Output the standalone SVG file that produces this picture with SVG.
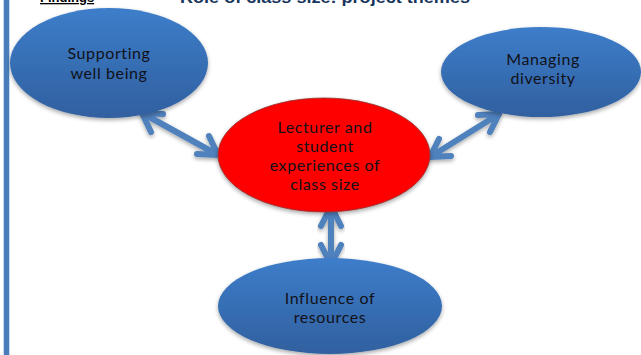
<svg xmlns="http://www.w3.org/2000/svg" width="641" height="355" viewBox="0 0 641 355">
  <defs>
    <linearGradient id="blueGrad" x1="0" y1="0" x2="0" y2="1">
      <stop offset="0" stop-color="#3d7dca"/>
      <stop offset="1" stop-color="#30609f"/>
    </linearGradient>
    <filter id="shadow" x="-20%" y="-20%" width="140%" height="150%">
      <feGaussianBlur in="SourceAlpha" stdDeviation="2"/>
      <feOffset dx="0" dy="2" result="b"/>
      <feComponentTransfer><feFuncA type="linear" slope="0.35"/></feComponentTransfer>
      <feMerge><feMergeNode/><feMergeNode in="SourceGraphic"/></feMerge>
    </filter>
    <style>
      .blue { fill: url(#blueGrad); filter: url(#shadow); }
      .red { fill: #ff0000; stroke: #8b3a3a; stroke-width: 0.8; filter: url(#shadow); }
      .lbl { font-family: Lato, "Open Sans", "Liberation Sans", sans-serif; font-size: 16px; letter-spacing: 0.6px; fill: #111118; text-anchor: middle; }
      .arrow { fill: none; stroke: #4f81bd; stroke-width: 6; stroke-linecap: round; stroke-linejoin: round; filter: url(#shadow); }
    </style>
  </defs>
  <rect width="641" height="355" fill="#ffffff"/>
  <rect x="3" y="0" width="7" height="355" fill="#c6d9f1"/>
  <rect x="4" y="0" width="5" height="355" fill="#4a7ebb"/>
  <text x="40" y="2" font-family="Liberation Sans, Arial, sans-serif" font-size="13" font-weight="bold" fill="#000000" text-decoration="underline">Findings</text>
  <text x="180" y="3" font-family="Liberation Sans, Arial, sans-serif" font-size="17" font-weight="bold" fill="#17365d" textLength="290" lengthAdjust="spacingAndGlyphs">Role of class size: project themes</text>

  <g id="connectors">
    <path class="arrow" d="M142,113 L218,155 M142,113 L163,114 M142,113 L151,132 M218,155 L197,154 M218,155 L209,136"/>
    <path class="arrow" d="M499,114 L430,157 M499,114 L478,115 M499,114 L490,132 M430,157 L451,156 M430,157 L439,139"/>
    <path class="arrow" d="M331,206 L331,265 M331,206 L321,226 M331,206 L341,226 M331,265 L321,245 M331,265 L341,245"/>
  </g>

  <g id="node-wellbeing">
    <ellipse class="blue" cx="109" cy="63" rx="99" ry="55"/>
    <text class="lbl" x="109" y="59">Supporting</text>
    <text class="lbl" x="109" y="79">well being</text>
  </g>
  <g id="node-diversity">
    <ellipse class="blue" cx="541" cy="72" rx="100" ry="45"/>
    <text class="lbl" x="543" y="65">Managing</text>
    <text class="lbl" x="543" y="84">diversity</text>
  </g>
  <g id="node-center">
    <ellipse class="red" cx="324" cy="155" rx="106" ry="57"/>
    <text class="lbl" x="325" y="133">Lecturer and</text>
    <text class="lbl" x="325" y="152">student</text>
    <text class="lbl" x="325" y="171">experiences of</text>
    <text class="lbl" x="325" y="190">class size</text>
  </g>
  <g id="node-resources">
    <ellipse class="blue" cx="330" cy="306" rx="112" ry="48"/>
    <text class="lbl" x="330" y="304">Influence of</text>
    <text class="lbl" x="330" y="323">resources</text>
  </g>
</svg>
